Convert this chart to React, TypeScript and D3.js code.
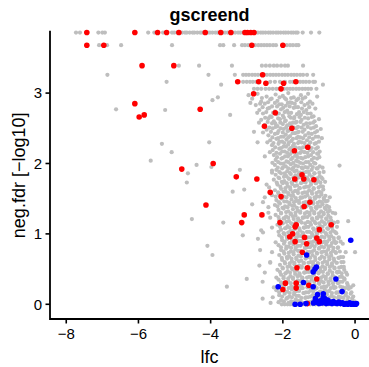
import React from "react";
import * as d3 from "d3";

// ---- tick labels ----
const xTicks = [-8, -6, -4, -2, 0];
const yTicks = [0, 1, 2, 3];

// ---- grey points: capped / discrete top rows [lfc, neg.fdr] ----
const greyTopRows: [number, number][] = [
  // 3.86 (cap)
  [-7.73,3.86],[-7.62,3.86],[-7.11,3.86],[-7.00,3.86],[-6.93,3.86],[-5.73,3.86],[-5.56,3.86],[-5.32,3.86],
  [-5.07,3.86],[-5.01,3.86],[-4.93,3.86],[-4.87,3.86],[-4.79,3.86],[-4.71,3.86],[-4.66,3.86],[-4.58,3.86],
  [-4.50,3.86],[-4.45,3.86],[-4.37,3.86],[-4.29,3.86],[-4.24,3.86],[-4.16,3.86],[-4.08,3.86],[-4.02,3.86],
  [-3.95,3.86],[-3.87,3.86],[-3.81,3.86],[-3.74,3.86],[-3.66,3.86],[-3.60,3.86],[-3.53,3.86],[-3.45,3.86],
  [-3.39,3.86],[-3.32,3.86],[-3.24,3.86],[-3.18,3.86],[-3.11,3.86],[-3.03,3.86],[-2.97,3.86],[-2.90,3.86],
  [-2.82,3.86],[-2.76,3.86],[-2.69,3.86],[-2.61,3.86],[-2.55,3.86],[-2.48,3.86],[-2.40,3.86],[-2.34,3.86],
  [-2.27,3.86],[-2.19,3.86],[-2.13,3.86],[-2.06,3.86],[-1.98,3.86],[-1.92,3.86],[-1.85,3.86],[-1.77,3.86],
  [-1.71,3.86],[-1.64,3.86],[-1.59,3.86],[-1.45,3.86],[-1.22,3.86],[-0.99,3.86],
  // 3.68
  [-7.09,3.68],[-6.87,3.68],[-6.48,3.68],[-5.07,3.68],[-3.74,3.68],[-3.65,3.68],[-3.35,3.68],[-3.13,3.68],
  [-3.05,3.68],[-2.96,3.68],[-2.77,3.68],[-2.68,3.68],[-2.60,3.68],[-2.52,3.68],[-2.44,3.68],[-2.36,3.68],
  [-2.27,3.68],[-2.19,3.68],[-1.89,3.68],[-1.80,3.68],[-1.72,3.68],[-1.63,3.68],[-1.57,3.68],
  // 3.39
  [-4.88,3.39],[-4.32,3.39],[-3.41,3.39],[-2.58,3.39],[-2.47,3.39],[-2.36,3.39],[-2.25,3.39],[-2.16,3.39],
  [-2.05,3.39],[-1.94,3.39],[-1.86,3.39],[-1.44,3.39],
  // 3.26
  [-6.86,3.26],[-4.06,3.26],[-3.33,3.26],[-3.10,3.26],[-3.02,3.26],[-2.94,3.26],[-2.85,3.26],[-2.77,3.26],
  [-2.69,3.26],[-2.60,3.26],[-2.52,3.26],[-2.44,3.26],[-2.35,3.26],[-2.27,3.26],[-2.19,3.26],[-2.11,3.26],
  [-2.02,3.26],[-1.94,3.26],[-1.86,3.26],[-1.77,3.26],[-1.69,3.26],[-1.61,3.26],[-1.52,3.26],[-1.44,3.26],
  [-1.33,3.26],[-1.16,3.26],
  // 3.16
  [-5.22,3.16],[-3.71,3.12],[-3.10,3.16],[-3.00,3.16],[-2.91,3.16],[-2.83,3.16],[-2.74,3.16],[-2.35,3.16],
  [-2.22,3.16],[-2.08,3.16],[-1.94,3.16],[-1.80,3.16],[-1.72,3.16],[-1.61,3.16],[-1.52,3.16],[-1.44,3.16],
  [-1.36,3.16],[-1.27,3.16],[-1.16,3.16],[-1.11,3.16],[-0.89,3.12],
  // 3.06
  [-2.80,3.06],[-2.70,3.06],[-2.60,3.06],[-2.48,3.06],[-2.38,3.06],[-2.28,3.06],[-2.18,3.06],[-2.10,3.06],
  [-1.97,3.06],[-1.88,3.06],[-1.80,3.06],[-1.72,3.06],[-1.63,3.06],[-1.55,3.06],[-1.46,3.06],[-1.38,3.06],
  [-1.30,3.06],[-1.22,3.06],[-1.07,3.06],
];

// ---- grey points: main cloud [lfc, neg.fdr] ----
const greyCloud: [number, number][] = [
  [-2.95,2.97],[-2.70,2.99],[-2.45,2.95],[-2.20,2.98],[-2.00,2.96],[-1.85,3.00],[-1.70,2.94],[-1.50,2.97],[-1.30,2.99],[-1.05,2.95],
  [-3.95,2.90],[-3.80,2.94],[-2.85,2.92],[-2.60,2.88],[-2.35,2.91],[-2.15,2.89],[-1.95,2.93],[-1.80,2.87],[-1.62,2.90],[-1.45,2.92],[-1.25,2.88],
  [-2.75,2.83],[-2.50,2.85],[-2.30,2.81],[-2.10,2.84],[-1.92,2.82],[-1.75,2.86],[-1.58,2.80],[-1.40,2.83],[-1.18,2.85],
  [-6.62,2.77],[-5.26,2.76],[-2.65,2.76],[-2.42,2.78],[-2.22,2.74],[-2.05,2.77],[-1.88,2.75],[-1.70,2.79],[-1.55,2.73],[-1.35,2.76],[-1.10,2.78],
  [-3.46,2.69],[-2.55,2.71],[-2.35,2.67],[-2.18,2.70],[-2.00,2.68],[-1.85,2.72],[-1.68,2.66],[-1.50,2.69],[-1.32,2.71],[-1.15,2.67],
  [-2.60,2.62],[-2.40,2.64],[-2.25,2.60],[-2.08,2.63],[-1.92,2.61],[-1.78,2.65],[-1.62,2.59],[-1.48,2.62],[-1.30,2.64],[-1.12,2.60],[-1.00,2.63],
  [-2.50,2.55],[-2.30,2.57],[-2.15,2.53],[-2.00,2.56],[-1.88,2.54],[-1.72,2.58],[-1.58,2.52],[-1.42,2.55],[-1.25,2.57],[-1.08,2.53],
  [-2.45,2.48],[-2.28,2.50],[-2.12,2.46],[-1.98,2.49],[-1.84,2.47],[-1.70,2.51],[-1.56,2.45],[-1.40,2.48],[-1.22,2.50],[-1.05,2.46],[-0.95,2.49],
  [-2.40,2.40],[-2.22,2.42],[-2.05,2.38],[-1.92,2.41],[-1.80,2.39],[-1.66,2.43],[-1.52,2.37],[-1.38,2.40],[-1.20,2.42],[-1.02,2.38],
  [-4.04,2.30],[-2.35,2.33],[-2.18,2.35],[-2.02,2.31],[-1.90,2.34],[-1.76,2.32],[-1.62,2.36],[-1.48,2.30],[-1.33,2.33],[-1.17,2.35],[-1.00,2.31],
  [-5.35,2.28],[-2.30,2.26],[-2.12,2.28],[-1.98,2.24],[-1.85,2.27],[-1.72,2.25],[-1.58,2.29],[-1.44,2.23],[-1.28,2.26],[-1.12,2.28],
  [-5.08,2.16],[-2.28,2.19],[-2.10,2.21],[-1.95,2.17],[-1.82,2.20],[-1.68,2.18],[-1.55,2.22],[-1.40,2.16],[-1.25,2.19],[-1.08,2.21],[-0.98,2.17],
  [-2.25,2.12],[-2.08,2.14],[-1.94,2.10],[-1.80,2.13],[-1.66,2.11],[-1.52,2.15],[-1.38,2.09],[-1.22,2.12],[-1.05,2.14],
  [-5.66,2.04],[-2.20,2.05],[-2.04,2.07],[-1.90,2.03],[-1.77,2.06],[-1.63,2.04],[-1.50,2.08],[-1.36,2.02],[-1.20,2.05],[-1.05,2.07],
  [-4.39,1.98],[-3.98,1.95],[-0.43,1.97],[-2.22,1.98],[-2.06,2.00],[-1.92,1.96],[-1.78,1.99],[-1.65,1.97],[-1.52,2.01],[-1.38,1.95],[-1.24,1.98],[-1.10,2.00],[-0.98,1.96],
  [-3.19,1.91],[-2.18,1.91],[-2.02,1.93],[-1.88,1.89],[-1.75,1.92],[-1.62,1.90],[-1.48,1.94],[-1.35,1.88],[-1.20,1.91],[-1.06,1.93],
  [-4.63,1.86],[-2.20,1.84],[-2.05,1.86],[-1.90,1.82],[-1.78,1.85],[-1.65,1.83],[-1.52,1.87],[-1.40,1.81],[-1.26,1.84],[-1.12,1.86],[-0.98,1.82],
  [-4.66,1.73],[-2.25,1.77],[-2.10,1.79],[-1.96,1.75],[-1.83,1.78],[-1.70,1.76],[-1.57,1.80],[-1.44,1.74],[-1.30,1.77],[-1.16,1.79],[-1.02,1.75],[-0.90,1.78],
  [-2.15,1.70],[-2.00,1.72],[-1.87,1.68],[-1.74,1.71],[-1.61,1.69],[-1.48,1.73],[-1.35,1.67],[-1.22,1.70],[-1.08,1.72],[-0.95,1.68],
  [-3.39,1.60],[-3.07,1.63],[-2.22,1.62],[-2.05,1.64],[-1.92,1.60],[-1.79,1.63],[-1.66,1.61],[-1.53,1.65],[-1.40,1.59],[-1.27,1.62],[-1.14,1.64],[-1.00,1.60],[-0.88,1.63],
  [-2.30,1.55],[-2.12,1.57],[-1.97,1.53],[-1.84,1.56],[-1.71,1.54],[-1.58,1.58],[-1.45,1.52],[-1.32,1.55],[-1.19,1.57],[-1.06,1.53],[-0.93,1.56],[-0.82,1.54],
  [-2.18,1.48],[-2.03,1.50],[-1.89,1.46],[-1.76,1.49],[-1.63,1.47],[-1.50,1.51],[-1.37,1.45],[-1.24,1.48],[-1.11,1.50],[-0.98,1.46],[-0.86,1.49],[-0.76,1.47],
  [-2.85,1.42],[-2.22,1.41],[-2.08,1.43],[-1.94,1.39],[-1.81,1.42],[-1.68,1.40],[-1.55,1.44],[-1.42,1.38],[-1.29,1.41],[-1.16,1.43],[-1.03,1.39],[-0.90,1.42],[-0.78,1.40],
  [-2.12,1.34],[-1.98,1.36],[-1.85,1.32],[-1.72,1.35],[-1.59,1.33],[-1.46,1.37],[-1.33,1.31],[-1.20,1.34],[-1.07,1.36],[-0.94,1.32],[-0.81,1.35],[-0.70,1.33],
  [-2.20,1.27],[-2.05,1.29],[-1.91,1.25],[-1.78,1.28],[-1.65,1.26],[-1.52,1.30],[-1.39,1.24],[-1.26,1.27],[-1.13,1.29],[-1.00,1.25],[-0.87,1.28],[-0.74,1.26],[-0.62,1.30],
  [-4.52,1.21],[-0.19,1.18],[-0.48,1.17],[-2.10,1.20],[-1.96,1.22],[-1.83,1.18],[-1.70,1.21],[-1.57,1.19],[-1.44,1.23],[-1.31,1.17],[-1.18,1.20],[-1.05,1.22],[-0.92,1.18],[-0.79,1.21],[-0.66,1.19],
  [-3.65,1.16],[-2.15,1.13],[-2.00,1.15],[-1.87,1.11],[-1.74,1.14],[-1.61,1.12],[-1.48,1.16],[-1.35,1.10],[-1.22,1.13],[-1.09,1.15],[-0.96,1.11],[-0.83,1.14],[-0.70,1.12],[-0.58,1.16],
  [-2.05,1.06],[-1.92,1.08],[-1.79,1.04],[-1.66,1.07],[-1.53,1.05],[-1.40,1.09],[-1.27,1.03],[-1.14,1.06],[-1.01,1.08],[-0.88,1.04],[-0.75,1.07],[-0.62,1.05],
  [-3.11,0.98],[-2.10,0.98],[-1.96,1.00],[-1.83,0.96],[-1.70,0.99],[-1.57,0.97],[-1.44,1.01],[-1.31,0.95],[-1.18,0.98],[-1.05,1.00],[-0.92,0.96],[-0.79,0.99],[-0.66,0.97],[-0.52,1.01],
  [-2.69,0.93],[-2.02,0.91],[-1.88,0.93],[-1.75,0.89],[-1.62,0.92],[-1.49,0.90],[-1.36,0.94],[-1.23,0.88],[-1.10,0.91],[-0.97,0.93],[-0.84,0.89],[-0.71,0.92],[-0.58,0.90],[-0.46,0.94],
  [-4.09,0.83],[-0.34,0.86],[-2.12,0.84],[-1.97,0.86],[-1.84,0.82],[-1.71,0.85],[-1.58,0.83],[-1.45,0.87],[-1.32,0.81],[-1.19,0.84],[-1.06,0.86],[-0.93,0.82],[-0.80,0.85],[-0.67,0.83],[-0.54,0.87],
  [-2.63,0.77],[-2.05,0.77],[-1.91,0.79],[-1.78,0.75],[-1.65,0.78],[-1.52,0.76],[-1.39,0.80],[-1.26,0.74],[-1.13,0.77],[-1.00,0.79],[-0.87,0.75],[-0.74,0.78],[-0.61,0.76],[-0.48,0.80],
  [-3.95,0.70],[0.00,0.74],[-0.26,0.74],[-2.10,0.70],[-1.96,0.72],[-1.83,0.68],[-1.70,0.71],[-1.57,0.69],[-1.44,0.73],[-1.31,0.67],[-1.18,0.70],[-1.05,0.72],[-0.92,0.68],[-0.79,0.71],[-0.66,0.69],[-0.53,0.73],[-0.40,0.67],
  [-2.02,0.63],[-1.88,0.65],[-1.75,0.61],[-1.62,0.64],[-1.49,0.62],[-1.36,0.66],[-1.23,0.60],[-1.10,0.63],[-0.97,0.65],[-0.84,0.61],[-0.71,0.64],[-0.58,0.62],[-0.45,0.66],[-0.32,0.60],
  [-2.08,0.56],[-1.94,0.58],[-1.81,0.54],[-1.68,0.57],[-1.55,0.55],[-1.42,0.59],[-1.29,0.53],[-1.16,0.56],[-1.03,0.58],[-0.90,0.54],[-0.77,0.57],[-0.64,0.55],[-0.51,0.59],[-0.38,0.53],
  [-2.15,0.49],[-2.00,0.51],[-1.87,0.47],[-1.74,0.50],[-1.61,0.48],[-1.48,0.52],[-1.35,0.46],[-1.22,0.49],[-1.09,0.51],[-0.96,0.47],[-0.83,0.50],[-0.70,0.48],[-0.57,0.52],[-0.44,0.46],[-0.30,0.49],
  [-2.05,0.42],[-1.92,0.44],[-1.79,0.40],[-1.66,0.43],[-1.53,0.41],[-1.40,0.45],[-1.27,0.39],[-1.14,0.42],[-1.01,0.44],[-0.88,0.40],[-0.75,0.43],[-0.62,0.41],[-0.49,0.45],[-0.36,0.39],[-0.22,0.42],
  [-3.00,0.36],[-2.56,0.32],[-2.12,0.35],[-1.98,0.37],[-1.85,0.33],[-1.72,0.36],[-1.59,0.34],[-1.46,0.38],[-1.33,0.32],[-1.20,0.35],[-1.07,0.37],[-0.94,0.33],[-0.81,0.36],[-0.68,0.34],[-0.55,0.38],[-0.42,0.32],[-0.29,0.35],
  [-3.55,0.25],[-0.05,0.27],[-2.04,0.27],[-1.90,0.29],[-1.77,0.25],[-1.64,0.28],[-1.51,0.26],[-1.38,0.30],[-1.25,0.24],[-1.12,0.27],[-0.99,0.29],[-0.86,0.25],[-0.73,0.28],[-0.60,0.26],[-0.47,0.30],[-0.34,0.24],[-0.20,0.27],
  [-2.18,0.20],[-2.02,0.22],[-1.88,0.18],[-1.75,0.21],[-1.62,0.19],[-1.49,0.23],[-1.36,0.17],[-1.23,0.20],[-1.10,0.22],[-0.97,0.18],[-0.84,0.21],[-0.71,0.19],[-0.58,0.23],[-0.45,0.17],[-0.32,0.20],[-0.18,0.22],
  [-2.10,0.13],[-1.95,0.15],[-1.82,0.11],[-1.69,0.14],[-1.56,0.12],[-1.43,0.16],[-1.30,0.10],[-1.17,0.13],[-1.04,0.15],[-0.91,0.11],[-0.78,0.14],[-0.65,0.12],[-0.52,0.16],[-0.39,0.10],[-0.26,0.13],[-0.12,0.15],
  [-2.56,0.08],[-2.34,0.02],[-2.05,0.06],[-1.90,0.08],[-1.77,0.04],[-1.64,0.07],[-1.51,0.05],[-1.38,0.09],[-1.25,0.03],[-1.12,0.06],[-0.99,0.08],[-0.86,0.04],[-0.73,0.07],[-0.60,0.05],[-0.47,0.09],[-0.34,0.03],[-0.21,0.06],[-0.08,0.08],
];

// ---- grey points filling the dense core between the rows above [lfc, neg.fdr] ----
const greyCore: [number, number][] = [
  [-2.58,2.93],[-2.31,2.92],[-2.09,2.94],[-1.91,2.91],[-1.77,2.93],[-1.57,2.92],[-1.38,2.94],
  [-2.90,2.86],[-2.63,2.85],[-2.41,2.87],[-2.22,2.86],[-2.03,2.84],[-1.86,2.86],[-1.67,2.85],[-1.49,2.87],[-1.31,2.85],
  [-2.56,2.80],[-2.37,2.79],[-2.16,2.81],[-1.99,2.79],[-1.81,2.81],[-1.65,2.80],[-1.47,2.78],[-1.27,2.80],
  [-2.71,2.72],[-2.46,2.73],[-2.27,2.72],[-2.11,2.71],[-1.95,2.73],[-1.77,2.72],[-1.61,2.70],[-1.42,2.73],[-1.23,2.71],
  [-2.49,2.65],[-2.31,2.66],[-2.13,2.64],[-1.97,2.65],[-1.82,2.67],[-1.69,2.64],[-1.54,2.66],[-1.39,2.65],[-1.20,2.66],
  [-2.66,2.58],[-2.42,2.59],[-2.21,2.57],[-2.07,2.58],[-1.94,2.60],[-1.80,2.57],[-1.65,2.58],[-1.51,2.59],[-1.35,2.57],[-1.16,2.58],
  [-2.37,2.51],[-2.20,2.52],[-2.06,2.50],[-1.91,2.51],[-1.77,2.53],[-1.63,2.50],[-1.48,2.51],[-1.31,2.52],[-1.14,2.51],
  [-2.55,2.44],[-2.33,2.45],[-2.15,2.43],[-2.00,2.44],[-1.87,2.46],[-1.73,2.43],[-1.59,2.44],[-1.45,2.45],[-1.29,2.43],[-1.11,2.44],
  [-2.29,2.37],[-2.13,2.36],[-1.98,2.38],[-1.85,2.37],[-1.72,2.35],[-1.58,2.38],[-1.44,2.36],[-1.27,2.37],[-1.09,2.38],[-0.92,2.36],
  [-2.43,2.30],[-2.26,2.29],[-2.10,2.31],[-1.96,2.29],[-1.83,2.30],[-1.69,2.28],[-1.55,2.31],[-1.40,2.29],[-1.24,2.30],[-1.08,2.29],
  [-2.21,2.23],[-2.05,2.22],[-1.91,2.24],[-1.78,2.22],[-1.65,2.23],[-1.51,2.21],[-1.36,2.24],[-1.20,2.22],[-1.03,2.23],
  [-2.36,2.16],[-2.18,2.15],[-2.02,2.17],[-1.88,2.15],[-1.75,2.16],[-1.61,2.14],[-1.47,2.17],[-1.32,2.15],[-1.16,2.16],[-1.02,2.14],
  [-2.16,2.09],[-2.00,2.08],[-1.86,2.10],[-1.73,2.08],[-1.59,2.09],[-1.45,2.07],[-1.30,2.10],[-1.14,2.08],[-0.99,2.09],
  [-2.29,2.01],[-2.13,2.02],[-1.98,2.00],[-1.85,2.02],[-1.71,2.01],[-1.58,2.03],[-1.44,2.00],[-1.29,2.02],[-1.14,2.01],
  [-2.14,1.94],[-1.99,1.95],[-1.85,1.93],[-1.71,1.94],[-1.58,1.96],[-1.45,1.93],[-1.31,1.94],[-1.17,1.95],[-1.04,1.93],[-0.90,1.94],
  [-2.30,1.87],[-2.10,1.88],[-1.95,1.86],[-1.81,1.87],[-1.68,1.89],[-1.55,1.86],[-1.42,1.87],[-1.28,1.88],[-1.13,1.86],[-0.99,1.87],[-0.87,1.88],
  [-2.12,1.80],[-1.97,1.81],[-1.84,1.79],[-1.71,1.80],[-1.58,1.82],[-1.46,1.79],[-1.33,1.80],[-1.19,1.81],[-1.05,1.79],[-0.93,1.80],
  [-2.17,1.73],[-2.03,1.74],[-1.89,1.72],[-1.76,1.73],[-1.63,1.75],[-1.50,1.72],[-1.37,1.73],[-1.23,1.74],[-1.09,1.72],[-0.96,1.73],[-0.83,1.74],
  [-2.38,1.66],[-2.07,1.67],[-1.93,1.65],[-1.80,1.66],[-1.67,1.68],[-1.54,1.65],[-1.41,1.66],[-1.28,1.67],[-1.15,1.65],[-1.01,1.66],[-0.89,1.67],
  [-2.13,1.59],[-1.98,1.60],[-1.85,1.58],[-1.72,1.59],[-1.59,1.61],[-1.46,1.58],[-1.33,1.59],[-1.20,1.60],[-1.07,1.58],[-0.94,1.59],
  [-2.50,1.52],[-2.20,1.53],[-2.04,1.51],[-1.90,1.52],[-1.77,1.54],[-1.64,1.51],[-1.51,1.52],[-1.38,1.53],[-1.25,1.51],[-1.12,1.52],[-0.99,1.53],[-0.87,1.51],[-0.70,1.52],
  [-2.11,1.45],[-1.96,1.46],[-1.82,1.44],[-1.69,1.45],[-1.56,1.47],[-1.43,1.44],[-1.30,1.45],[-1.17,1.46],[-1.04,1.44],[-0.92,1.45],[-0.81,1.46],
  [-2.40,1.38],[-2.15,1.39],[-2.01,1.37],[-1.87,1.38],[-1.74,1.40],[-1.61,1.37],[-1.48,1.38],[-1.35,1.39],[-1.22,1.37],[-1.09,1.38],[-0.97,1.39],[-0.84,1.37],[-0.72,1.38],
  [-2.05,1.30],[-1.91,1.31],[-1.78,1.29],[-1.65,1.30],[-1.52,1.32],[-1.39,1.29],[-1.26,1.30],[-1.13,1.31],[-1.00,1.29],[-0.87,1.30],[-0.75,1.31],[-0.55,1.29],
  [-2.35,1.23],[-2.12,1.24],[-1.98,1.22],[-1.85,1.23],[-1.72,1.25],[-1.58,1.22],[-1.45,1.23],[-1.32,1.24],[-1.19,1.22],[-1.06,1.23],[-0.93,1.24],[-0.80,1.22],[-0.68,1.23],
  [-2.03,1.16],[-1.90,1.17],[-1.77,1.15],[-1.64,1.16],[-1.51,1.18],[-1.38,1.15],[-1.25,1.16],[-1.12,1.17],[-0.99,1.15],[-0.86,1.16],[-0.73,1.17],[-0.60,1.15],
  [-2.30,1.09],[-2.08,1.10],[-1.94,1.08],[-1.81,1.09],[-1.68,1.11],[-1.55,1.08],[-1.42,1.09],[-1.29,1.10],[-1.16,1.08],[-1.03,1.09],[-0.90,1.10],[-0.77,1.08],[-0.64,1.09],[-0.50,1.10],
  [-2.55,1.02],[-2.12,1.03],[-1.98,1.01],[-1.85,1.02],[-1.72,1.04],[-1.59,1.01],[-1.46,1.02],[-1.33,1.03],[-1.20,1.01],[-1.07,1.02],[-0.94,1.03],[-0.81,1.01],[-0.68,1.02],[-0.56,1.03],
  [-2.03,0.95],[-1.89,0.96],[-1.76,0.94],[-1.63,0.95],[-1.50,0.97],[-1.37,0.94],[-1.24,0.95],[-1.11,0.96],[-0.98,0.94],[-0.85,0.95],[-0.72,0.96],[-0.59,0.94],[-0.45,0.95],
  [-2.20,0.88],[-1.95,0.89],[-1.81,0.87],[-1.68,0.88],[-1.55,0.90],[-1.42,0.87],[-1.29,0.88],[-1.16,0.89],[-1.03,0.87],[-0.90,0.88],[-0.77,0.89],[-0.64,0.87],[-0.52,0.88],[-0.40,0.89],
  [-2.05,0.81],[-1.90,0.82],[-1.77,0.80],[-1.64,0.81],[-1.51,0.83],[-1.38,0.80],[-1.25,0.81],[-1.12,0.82],[-0.99,0.80],[-0.86,0.81],[-0.73,0.82],[-0.60,0.80],[-0.47,0.81],
  [-2.30,0.74],[-1.98,0.75],[-1.84,0.73],[-1.71,0.74],[-1.58,0.76],[-1.45,0.73],[-1.32,0.74],[-1.19,0.75],[-1.06,0.73],[-0.93,0.74],[-0.80,0.75],[-0.67,0.73],[-0.54,0.74],[-0.42,0.75],
  [-2.03,0.66],[-1.89,0.67],[-1.76,0.65],[-1.63,0.66],[-1.50,0.68],[-1.37,0.65],[-1.24,0.66],[-1.11,0.67],[-0.98,0.65],[-0.85,0.66],[-0.72,0.67],[-0.59,0.65],[-0.46,0.66],[-0.33,0.67],
  [-2.35,0.59],[-1.95,0.60],[-1.81,0.58],[-1.68,0.59],[-1.55,0.61],[-1.42,0.58],[-1.29,0.59],[-1.16,0.60],[-1.03,0.58],[-0.90,0.59],[-0.77,0.60],[-0.64,0.58],[-0.51,0.59],[-0.38,0.60],
  [-2.01,0.52],[-1.87,0.53],[-1.74,0.51],[-1.61,0.52],[-1.48,0.54],[-1.35,0.51],[-1.22,0.52],[-1.09,0.53],[-0.96,0.51],[-0.83,0.52],[-0.70,0.53],[-0.57,0.51],[-0.44,0.52],[-0.31,0.53],
  [-2.50,0.45],[-2.08,0.46],[-1.93,0.44],[-1.80,0.45],[-1.67,0.47],[-1.54,0.44],[-1.41,0.45],[-1.28,0.46],[-1.15,0.44],[-1.02,0.45],[-0.89,0.46],[-0.76,0.44],[-0.63,0.45],[-0.50,0.46],[-0.37,0.44],[-0.25,0.45],
  [-2.18,0.38],[-1.98,0.39],[-1.85,0.37],[-1.72,0.38],[-1.59,0.40],[-1.46,0.37],[-1.33,0.38],[-1.20,0.39],[-1.07,0.37],[-0.94,0.38],[-0.81,0.39],[-0.68,0.37],[-0.55,0.38],[-0.42,0.39],[-0.30,0.37],
  [-2.05,0.31],[-1.91,0.32],[-1.78,0.30],[-1.65,0.31],[-1.52,0.33],[-1.39,0.30],[-1.26,0.31],[-1.13,0.32],[-1.00,0.30],[-0.87,0.31],[-0.74,0.32],[-0.61,0.30],[-0.48,0.31],[-0.35,0.32],[-0.22,0.30],
  [-2.25,0.24],[-1.97,0.25],[-1.84,0.23],[-1.71,0.24],[-1.58,0.26],[-1.45,0.23],[-1.32,0.24],[-1.19,0.25],[-1.06,0.23],[-0.93,0.24],[-0.80,0.25],[-0.67,0.23],[-0.54,0.24],[-0.41,0.25],[-0.27,0.23],[-0.12,0.24],
  [-2.10,0.17],[-1.95,0.18],[-1.81,0.16],[-1.68,0.17],[-1.55,0.19],[-1.42,0.16],[-1.29,0.17],[-1.16,0.18],[-1.03,0.16],[-0.90,0.17],[-0.77,0.18],[-0.64,0.16],[-0.51,0.17],[-0.38,0.18],[-0.25,0.16],[-0.10,0.17],
  [-2.28,0.10],[-2.02,0.11],[-1.88,0.09],[-1.75,0.10],[-1.62,0.12],[-1.49,0.09],[-1.36,0.10],[-1.23,0.11],[-1.10,0.09],[-0.97,0.10],[-0.84,0.11],[-0.71,0.09],[-0.58,0.10],[-0.45,0.11],[-0.32,0.09],[-0.19,0.10],[-0.05,0.11],
  [-2.12,0.03],[-1.97,0.04],[-1.84,0.02],[-1.71,0.03],[-1.58,0.05],[-1.45,0.02],[-1.32,0.03],[-1.19,0.04],[-1.06,0.02],[-0.93,0.03],[-0.80,0.04],[-0.67,0.02],[-0.54,0.03],[-0.41,0.04],[-0.28,0.02],[-0.15,0.03],[-0.02,0.04],
  [-2.45,1.70],[-2.55,1.45],[-2.40,1.30],[-2.60,1.05],[-2.35,0.60],[-2.65,0.55],[-2.30,1.90],[-2.50,2.10],[-2.70,2.30],[-2.80,2.45],
];

// ---- grey points at neg.fdr = 0 ----
const greyZeroLfc = [
  -2.03,-1.95,-1.87,-1.80,-1.73,-1.66,-1.59,-1.52,-1.45,-1.38,-1.31,-1.24,-1.17,-1.10,-1.03,
  -0.96,-0.89,-0.82,-0.75,-0.68,-0.61,-0.54,-0.47,-0.40,-0.33,-0.26,-0.19,-0.12,-0.05,0.02,
];

// ---- red points [lfc, neg.fdr] ----
const redPoints: [number, number][] = [
  [-7.43,3.86],[-6.10,3.86],[-5.47,3.86],[-5.22,3.86],[-4.88,3.86],[-4.15,3.86],[-3.72,3.86],[-3.44,3.86],
  [-3.05,3.86],[-2.98,3.86],[-2.89,3.86],[-2.80,3.86],
  [-7.43,3.68],[-6.96,3.68],[-2.86,3.68],[-2.00,3.68],
  [-5.90,3.39],[-5.02,3.39],[-2.56,3.26],
  [-3.25,3.16],[-2.67,3.16],[-2.47,3.14],[-1.98,3.14],[-1.64,3.16],[-2.05,3.06],[-2.81,2.99],
  [-6.10,2.85],[-4.29,2.77],[-2.21,2.72],[-5.98,2.66],[-5.84,2.69],
  [-2.51,2.53],[-1.75,2.50],[-1.31,2.23],[-1.68,2.18],
  [-3.93,2.00],[-4.80,1.92],[-3.29,1.81],[-2.72,1.78],[-1.47,1.84],[-1.67,1.78],[-1.42,1.78],[-1.14,1.77],
  [-2.35,1.59],[-2.05,1.53],[-1.25,1.45],[-1.41,1.39],[-4.13,1.41],
  [-3.07,1.27],[-2.58,1.27],[-3.14,1.16],[-2.08,1.16],[-0.66,1.13],[-1.63,1.13],[-1.66,1.10],[-0.99,1.06],
  [-1.73,1.00],[-1.81,0.96],[-1.40,0.95],[-1.06,0.94],[-0.99,0.89],[-1.66,0.89],[-1.34,0.86],
  [-1.46,0.74],[-1.61,0.52],[-1.32,0.52],[-1.06,0.36],
  [-1.93,0.30],[-2.00,0.21],[-1.63,0.30],[-1.63,0.23],[-1.28,0.27],[-1.32,0.01],
];

// ---- blue points [lfc, neg.fdr] ----
const bluePoints: [number, number][] = [
  [-0.12,0.91],[-1.34,0.70],[-1.07,0.53],[-1.16,0.46],[-1.11,0.50],[-0.53,0.36],[-2.13,0.25],
  [-1.43,0.31],[-1.16,0.25],[-0.36,0.18],[-1.04,0.14],[-0.88,0.15],[-0.90,0.06],[-0.84,0.08],[-0.79,0.05],
  [-1.66,0.00],[-1.52,0.00],[-1.36,0.01],[-1.15,0.02],[-1.10,0.08],[-1.06,0.03],[-1.00,0.01],[-0.96,0.05],
  [-0.92,0.02],[-0.88,0.10],[-0.84,0.04],[-0.80,0.01],[-0.76,0.06],[-0.72,0.02],[-0.68,0.03],[-0.64,0.01],
  [-0.60,0.04],[-0.55,0.02],[-0.50,0.01],[-0.45,0.03],[-0.40,0.01],[-0.35,0.02],[-0.30,0.00],[-0.25,0.01],
  [-0.20,0.00],[-0.15,0.02],[-0.10,0.00],[-0.06,0.01],[-0.02,0.00],[0.02,0.00],[0.04,0.01],
];

const W = 369;
const H = 367;
const FONT = "'Liberation Sans', Arial, Helvetica, sans-serif";

export default function App() {
  const x = d3.scaleLinear().domain([-8.45, 0.45]).range([50, 371.3]);
  const y = d3.scaleLinear().domain([-0.209, 3.872]).range([319, 31.7]);
  const [x0] = x.range();
  const [y0, y1] = y.range();

  const grey: [number, number][] = [
    ...greyTopRows,
    ...greyCloud,
    ...greyCore,
    ...greyZeroLfc.map((l) => [l, 0] as [number, number]),
  ];

  return (
    <svg
      width={W}
      height={H}
      viewBox={`0 0 ${W} ${H}`}
      style={{ position: "absolute", left: 0, top: 0, background: "#fff" }}
      fontFamily={FONT}
    >
      <rect x={0} y={0} width={W} height={H} fill="#fff" />
      <g>
        {grey.map(([l, n], i) => (
          <circle key={"g" + i} cx={x(l)} cy={y(n)} r={2.1} fill="#BEBEBE" />
        ))}
        {redPoints.map(([l, n], i) => (
          <circle key={"r" + i} cx={x(l)} cy={y(n)} r={2.8} fill="#FF0000" />
        ))}
        {bluePoints.map(([l, n], i) => (
          <circle key={"b" + i} cx={x(l)} cy={y(n)} r={2.8} fill="#0000FF" />
        ))}
      </g>
      {/* axes */}
      <path
        d={`M${x0},${y1} V${y0} H${W + 2}`}
        fill="none"
        stroke="#000"
        strokeWidth={1.8}
        strokeLinecap="square"
      />
      {yTicks.map((t) => (
        <g key={"yt" + t}>
          <line x1={x0 - 4.5} x2={x0} y1={y(t)} y2={y(t)} stroke="#000" strokeWidth={1.6} />
          <text x={x0 - 8} y={y(t)} dy="0.36em" textAnchor="end" fontSize={15} fill="#000">
            {t}
          </text>
        </g>
      ))}
      {xTicks.map((t) => (
        <g key={"xt" + t}>
          <line x1={x(t)} x2={x(t)} y1={y0} y2={y0 + 4.5} stroke="#000" strokeWidth={1.6} />
          <text x={x(t)} y={y0 + 19.5} textAnchor="middle" fontSize={15} fill="#000">
            {t < 0 ? "\u2212" + Math.abs(t) : String(t)}
          </text>
        </g>
      ))}
      <text x={(x0 + W) / 2} y={363} textAnchor="middle" fontSize={18} fill="#000">
        lfc
      </text>
      <text
        transform={`translate(25,${(y0 + y1) / 2}) rotate(-90)`}
        textAnchor="middle"
        fontSize={18}
        fill="#000"
      >
        neg.fdr [−log10]
      </text>
      <text
        x={(x0 + W) / 2}
        y={21}
        textAnchor="middle"
        fontSize={18}
        fontWeight="bold"
        fill="#000"
      >
        gscreend
      </text>
    </svg>
  );
}
